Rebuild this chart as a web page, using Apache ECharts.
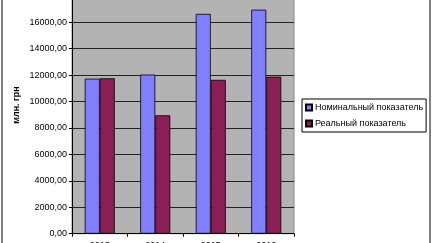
<!DOCTYPE html>
<html><head><meta charset="utf-8">
<script src="https://cdn.jsdelivr.net/npm/echarts@6/dist/echarts.min.js"></script>
<style>html,body{margin:0;padding:0;background:#fff}#c{width:432px;height:243px}</style>
</head><body><div id="c"></div>
<script>
const categories = ['2013', '2014', '2015', '2016'];
const nominal = [11730, 12040, 16630, 16950];
const real = [11760, 8960, 11640, 11880];
const seriesNames = ['Номинальный показатель', 'Реальный показатель'];
const axisTitle = 'млн. грн';

const chart = echarts.init(document.getElementById('c'), null, {renderer: 'canvas'});
const font = 'Liberation Sans, Arial, sans-serif';
chart.setOption({
  animation: false,
  textStyle: {fontFamily: font},
  grid: {left: 72, right: 138, top: -4.2, bottom: 9.3, show: true, backgroundColor: '#b3b3b3', borderColor: '#888', borderWidth: 1,
         containLabel: false, outerBoundsMode: 'none'},
  legend: {
    orient: 'vertical', left: 302, top: 99, width: 126,
    itemWidth: 6, itemHeight: 6, itemGap: 7, icon: 'rect',
    borderColor: '#000', borderWidth: 1, padding: [4, 3, 4, 3],
    textStyle: {fontSize: 9, color: '#000', fontFamily: font, padding: [0, 0, 0, -2]},
    data: seriesNames
  },
  xAxis: {
    type: 'category', data: categories,
    axisLine: {lineStyle: {color: '#000', width: 1}},
    axisTick: {show: true, length: 3, lineStyle: {color: '#000'}},
    axisLabel: {fontSize: 9, color: '#000', margin: 7, fontFamily: font}
  },
  yAxis: {
    type: 'value', min: 0, max: 18000, interval: 2000,
    axisLine: {show: true, lineStyle: {color: '#000'}},
    axisTick: {show: true, length: 3, lineStyle: {color: '#000'}},
    splitLine: {lineStyle: {color: '#222', width: 1}},
    axisLabel: {fontSize: 9, color: '#000', margin: 5, fontFamily: font,
      formatter: v => v.toFixed(2).replace('.', ',')}
  },
  series: [
    {name: seriesNames[0], type: 'bar', data: nominal, barWidth: 15, barGap: '0%',
     itemStyle: {color: '#8080ff', borderColor: '#000', borderWidth: 0.8}},
    {name: seriesNames[1], type: 'bar', data: real, barWidth: 15,
     itemStyle: {color: '#8a1f55', borderColor: '#000', borderWidth: 0.8}}
  ],
  graphic: [
    {type: 'rect', shape: {x: 2, y: -5, width: 428, height: 260}, style: {fill: null, stroke: '#000', lineWidth: 1}, silent: true},
    {type: 'text', x: 16.5, y: 105, rotation: Math.PI / 2,
     style: {text: axisTitle, fontSize: 9, fontWeight: 'bold', fill: '#000', fontFamily: font, align: 'center', verticalAlign: 'middle'}}
  ]
});
</script></body></html>
